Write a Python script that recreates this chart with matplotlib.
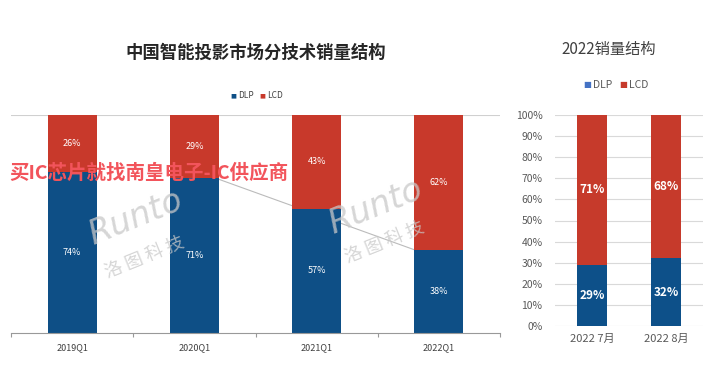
import matplotlib
matplotlib.use("Agg")
import matplotlib.pyplot as plt
import numpy as np

plt.rcParams['font.family'] = ['Noto Sans CJK SC', 'DejaVu Sans']

# Left chart data
q_labels = ["2019Q1", "2020Q1", "2021Q1", "2022Q1"]
q_dlp = [74, 71, 57, 38]
q_lcd = [26, 29, 43, 62]

# Right chart data
m_labels = ["2022 7月", "2022 8月"]
m_dlp = [29, 32]
m_lcd = [71, 68]

BLUE_L = "#0e4f86"
RED_L = "#c8392b"
BLUE_R = "#0d5089"
RED_R = "#c63a2b"

W, H = 720, 366
fig = plt.figure(figsize=(W / 100, H / 100), dpi=100)
fig.patch.set_facecolor("white")

def fx(px):
    return px / W

def fy(py):
    return 1 - py / H

# ---------- Left chart ----------
axL = fig.add_axes([fx(11), fy(333), fx(500) - fx(11), fy(115) - fy(333)])
axL.patch.set_alpha(0)
x = np.arange(len(q_labels))
dlp = np.array(q_dlp) / 100
lcd = np.array(q_lcd) / 100
axL.bar(x, dlp, width=0.4, color=BLUE_L, zorder=2)
axL.bar(x, lcd, width=0.4, bottom=dlp, color=RED_L, zorder=2)
axL.axhline(1.0, color="#d0d0d0", lw=0.8, zorder=1)
# watermark line (behind bars)
axL.plot([fx(218), fx(415)], [fy(179), fy(250)], transform=fig.transFigure,
         color="#bbbbbb", lw=0.8, zorder=1, clip_on=False)
for i in range(len(x)):
    axL.text(x[i], dlp[i] / 2, f"{q_dlp[i]}%", ha="center", va="center",
             color="white", fontsize=6.5, zorder=4)
    axL.text(x[i], dlp[i] + lcd[i] / 2, f"{q_lcd[i]}%", ha="center", va="center",
             color="white", fontsize=6.5, zorder=4)
axL.set_xlim(-0.5, len(x) - 0.5)
axL.set_ylim(0, 1)
axL.set_yticks([])
axL.set_xticks(np.arange(-0.5, len(x), 1.0))
axL.set_xticklabels([])
axL.set_xticks(x, minor=True)
axL.set_xticklabels(q_labels, minor=True, fontsize=6.5, color="#404040")
axL.tick_params(axis="x", which="minor", length=0, pad=7)
axL.tick_params(axis="x", which="major", length=3, color="#999999", direction="out")
for s in ["top", "right", "left"]:
    axL.spines[s].set_visible(False)
axL.spines["bottom"].set_color("#999999")
axL.spines["bottom"].set_linewidth(0.8)

fig.text(fx(256), fy(53), "中国智能投影市场分技术销量结构", ha="center", va="center",
         fontsize=12.5, fontweight="bold", color="#262626")
# left legend
fig.text(fx(233), fy(96), "■", color=BLUE_L, fontsize=4.5, ha="center", va="center", family="DejaVu Sans")
fig.text(fx(238), fy(96), "DLP", color="#404040", fontsize=6, ha="left", va="center")
fig.text(fx(262), fy(96), "■", color=RED_L, fontsize=4.5, ha="center", va="center", family="DejaVu Sans")
fig.text(fx(267), fy(96), "LCD", color="#404040", fontsize=6, ha="left", va="center")

# watermarks
for cx, cy in [(135, 218), (375, 207)]:
    fig.text(fx(cx), fy(cy), "Runto", ha="center", va="center", fontsize=24, style="italic",
             color="#c8c8c8", alpha=0.75, rotation=22, family="DejaVu Sans", zorder=6)
for cx, cy in [(145, 258), (385, 243)]:
    fig.text(fx(cx), fy(cy), "洛 图 科 技", ha="center", va="center", fontsize=13,
             color="#c8c8c8", alpha=0.75, rotation=22, zorder=6)
fig.text(fx(9), fy(173), "买IC芯片就找南皇电子-IC供应商", ha="left", va="center",
         fontsize=14, fontweight="bold", color="#f2545b", zorder=7)

# ---------- Right chart ----------
axR = fig.add_axes([fx(555), fy(326), fx(703) - fx(555), fy(115) - fy(326)])
xr = np.arange(len(m_labels))
axR.bar(xr, m_dlp, width=0.4, color=BLUE_R, zorder=2, label="DLP")
axR.bar(xr, m_lcd, width=0.4, bottom=m_dlp, color=RED_R, zorder=2, label="LCD")
for i in range(len(xr)):
    axR.text(xr[i], m_dlp[i] / 2, f"{m_dlp[i]}%", ha="center", va="center",
             color="white", fontsize=8.5, fontweight="bold", zorder=4)
    axR.text(xr[i], m_dlp[i] + m_lcd[i] / 2, f"{m_lcd[i]}%", ha="center", va="center",
             color="white", fontsize=8.5, fontweight="bold", zorder=4)
axR.set_xlim(-0.5, len(xr) - 0.5)
axR.set_ylim(0, 100)
yt = np.arange(0, 101, 10)
axR.set_yticks(yt)
axR.set_yticklabels([f"{v}%" for v in yt], fontsize=7.5, color="#595959")
axR.yaxis.grid(True, color="#d9d9d9", lw=0.8, zorder=0)
axR.set_xticks(xr)
axR.set_xticklabels(m_labels, fontsize=8, color="#595959")
axR.tick_params(length=0)
axR.tick_params(axis="y", pad=9)
axR.tick_params(axis="x", pad=6)
for s in ["top", "right", "left", "bottom"]:
    axR.spines[s].set_visible(False)
axR.set_axisbelow(True)

fig.text(fx(609), fy(49), "2022销量结构", ha="center", va="center", fontsize=11, color="#404040")
fig.text(fx(587), fy(85), "■", color="#4472c4", fontsize=6, ha="center", va="center", family="DejaVu Sans")
fig.text(fx(593), fy(85), "DLP", color="#595959", fontsize=7.5, ha="left", va="center")
fig.text(fx(623), fy(85), "■", color=RED_R, fontsize=6, ha="center", va="center", family="DejaVu Sans")
fig.text(fx(629), fy(85), "LCD", color="#595959", fontsize=7.5, ha="left", va="center")

fig.savefig("out.png", dpi=100, facecolor="white")
